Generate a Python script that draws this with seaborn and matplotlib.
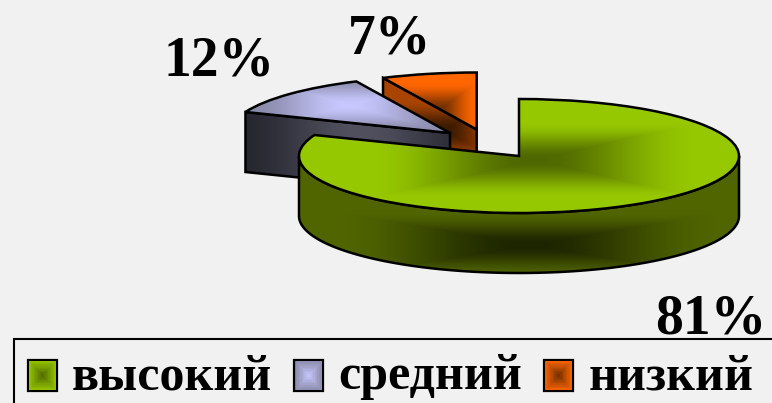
import numpy as np
import matplotlib
matplotlib.use("Agg")
import matplotlib.pyplot as plt
from matplotlib.legend_handler import HandlerBase
from matplotlib.patches import Rectangle
import seaborn as sns

categories = ["высокий", "средний", "низкий"]
values = [81, 12, 7]

W, H = 772, 403
BG = "#F1F1F1"
sns.set_theme(style="white", rc={"figure.facecolor": BG, "axes.facecolor": BG})
plt.rcParams["font.family"] = ["Liberation Serif", "DejaVu Serif"]

TILT = 57 / 220
RADIUS = 220
WALL = 60

def Y(py):
    return -np.asarray(py, dtype=float) / TILT

# apex of each slice, in picture pixels
apex = [(519, 156), (450, 133), (476.7, 129.5)]
label_pos = [(711, 319), (219, 62), (390, 40)]

ramp = lambda a, b: sns.blend_palette([a, b], 64, as_cmap=True)
top_cmaps = [ramp("#4E6600", "#96C800"), ramp("#C8C8FF", "#8A8AAA"), ramp("#6A2C00", "#FF6600")]
wall_cmaps = [ramp("#1C2400", "#506400"), ramp("#50505F", "#26262F"), ramp("#3A1A00", "#A84400")]
# gradient centre and half sizes, in picture pixels
top_grad = [(535, 160, 165, 38), (350, 105, 100, 28), (437, 112, 40, 30)]
wall_grad = [(530, 245, 190, 32), (360, 150, 125, 400), (445, 130, 50, 30)]

fig = plt.figure(figsize=(W / 100, H / 100), dpi=100, facecolor=BG)
ax = fig.add_axes([0, 0, 1, 1])

xx, yy = np.meshgrid(np.arange(W) + 0.5, np.arange(H) + 0.5)
EDGE = dict(edgecolor="black", linewidth=1.8)

def gradient(spec, cmap, clip, z):
    cx, cy, rx, ry = spec
    t = np.clip(np.maximum(np.abs(xx - cx) / rx, np.abs(yy - cy) / ry), 0, 1)
    t = t * t * (3 - 2 * t)
    im = ax.imshow(t, cmap=cmap, vmin=0, vmax=1, extent=(0, W, Y(H), Y(0)),
                   origin="upper", aspect="auto", zorder=z, interpolation="bilinear")
    im.set_clip_path(clip)

fractions = np.array(values) / sum(values)
starts = np.concatenate([[0], np.cumsum(fractions)[:-1]]) * 360
spans = fractions * 360
wedges = []

for i in [2, 1, 0]:
    ax_, ay_ = apex[i]
    base = 3 - i
    a0, a1 = starts[i], starts[i] + spans[i]
    cy = Y(ay_)
    drop = WALL / TILT
    # outer rim wall (front-facing part) and cut face
    if i == 0:
        arc = np.radians(np.linspace(90, 270, 180))
        px = ax_ + RADIUS * np.sin(arc)
        py = cy + RADIUS * np.cos(arc)
        wx = np.r_[px, px[::-1]]
        wy = np.r_[py, py[::-1] - drop]
    else:
        ang = np.radians(a0)
        ex, ey = ax_ + RADIUS * np.sin(ang), cy + RADIUS * np.cos(ang)
        wx = np.array([ex, ax_, ax_, ex])
        wy = np.array([ey, cy, cy - drop, ey - drop])
    wall_face, = ax.fill(wx, wy, facecolor="none", zorder=base + 0.2, **EDGE)
    gradient(wall_grad[i], wall_cmaps[i], wall_face, base + 0.1)
    patches, _ = ax.pie([fractions[i]], normalize=False, center=(ax_, cy), radius=RADIUS,
                        startangle=90 - a0, counterclock=False,
                        wedgeprops=dict(facecolor="none", zorder=base + 0.4, **EDGE))
    wedges.insert(0, patches[0])
    gradient(top_grad[i], top_cmaps[i], patches[0], base + 0.3)

ax.set_aspect("auto")
ax.set_xlim(0, W)
ax.set_ylim(Y(H), Y(0))
ax.axis("off")

for v, (lx, ly) in zip(values, label_pos):
    ax.text(lx, Y(ly), f"{v}%", ha="center", va="center", fontsize=40,
            fontweight="bold", color="black", zorder=10)


class Swatch(HandlerBase):
    def __init__(self, cmap, **kw):
        super().__init__(**kw)
        self.cmap = cmap

    def create_artists(self, legend, orig, xd, yd, width, height, fontsize, trans):
        y0 = -yd - 3
        out = [Rectangle((-xd, y0), width, height, facecolor=self.cmap(1.0),
                         edgecolor="black", linewidth=1.6, transform=trans)]
        for s in np.linspace(0.9, 0.1, 9):
            out.append(Rectangle((-xd + width * (1 - s) / 2, y0 + height * (1 - s) / 2),
                                 width * s, height * s, facecolor=self.cmap(s),
                                 edgecolor="none", transform=trans))
        return out


FS = 36
leg = ax.legend(wedges, categories, loc="upper left",
                bbox_to_anchor=(14 / W, 1 - 340 / H), bbox_transform=fig.transFigure,
                ncol=3, frameon=False,
                borderaxespad=0, borderpad=0.28,
                handlelength=0.58, handleheight=0.6, handletextpad=0.3, columnspacing=0.44,
                labelcolor="black",
                prop=dict(weight="bold", size=FS),
                handler_map={w: Swatch(c) for w, c in zip(wedges, top_cmaps)})
leg.set_zorder(10)

# legend box: runs past the right and bottom edges of the picture
fig.add_artist(Rectangle((14 / W, -0.1), 1, 1.1 - 339 / H, transform=fig.transFigure,
                         fill=False, edgecolor="black", linewidth=1.5))

fig.savefig("out.png", dpi=100, facecolor=BG)
